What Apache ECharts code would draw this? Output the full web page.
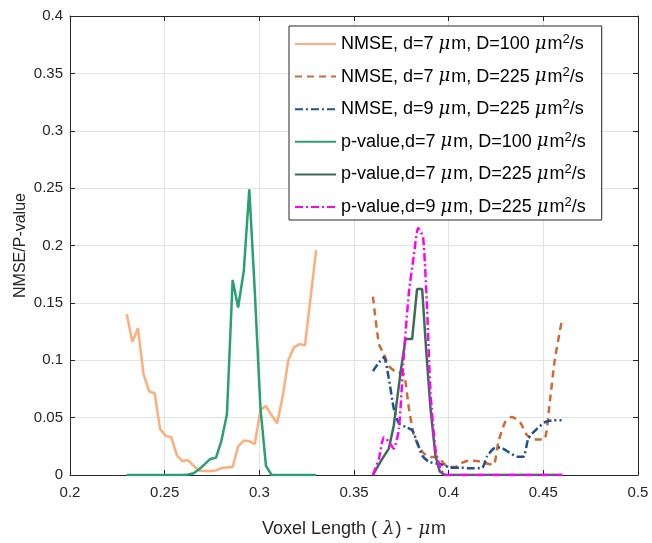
<!DOCTYPE html>
<html><head><meta charset="utf-8">
<script src="https://cdn.jsdelivr.net/npm/echarts@6/dist/echarts.min.js"></script>
<style>html,body{margin:0;padding:0;background:#fff}#c{width:652px;height:543px}</style>
</head><body><div id="c"></div><script>
// ---- data ----
const xTicks = [0.2, 0.25, 0.3, 0.35, 0.4, 0.45, 0.5];
const yTicks = [0, 0.05, 0.1, 0.15, 0.2, 0.25, 0.3, 0.35, 0.4];

const leftX = [0.2300,0.2329,0.2359,0.2388,0.2418,0.2447,0.2476,0.2506,0.2535,0.2565,0.2594,0.2624,0.2653,0.2682,0.2712,0.2741,0.2771,0.2800,0.2829,0.2859,0.2888,0.2918,0.2947,0.2976,0.3006,0.3035,0.3065,0.3094,0.3124,0.3153,0.3182,0.3212,0.3241,0.3271,0.3300];
const nmse7_100 = [0.140,0.116,0.128,0.088,0.073,0.071,0.040,0.034,0.033,0.017,0.012,0.013,0.008,0.004,0.0035,0.0035,0.004,0.006,0.0065,0.007,0.025,0.030,0.0295,0.027,0.057,0.060,0.052,0.045,0.069,0.100,0.111,0.114,0.113,0.155,0.196];
const pval7_100 = [0,0,0,0,0,0,0,0,0,0,0,0.0005,0.0015,0.005,0.0095,0.014,0.015,0.030,0.053,0.170,0.146,0.178,0.249,0.160,0.058,0.008,0,0,0,0,0,0,0,0,0];

const nmse7_225X = [0.360,0.3632,0.3658,0.3684,0.372,0.3763,0.379,0.3816,0.3842,0.3868,0.3895,0.3947,0.3974,0.400,0.4035,0.4061,0.4105,0.4158,0.4202,0.4237,0.4263,0.4298,0.4333,0.4377,0.4412,0.4447,0.4504,0.4535,0.4561,0.4596];
const nmse7_225 = [0.1555,0.114,0.1055,0.095,0.090,0.088,0.058,0.035,0.0245,0.019,0.016,0.015,0.010,0.007,0.007,0.010,0.0124,0.012,0.010,0.0087,0.029,0.046,0.0506,0.046,0.035,0.031,0.031,0.065,0.101,0.133];

const nmse9_225X = [0.360,0.3632,0.3658,0.3684,0.371,0.3737,0.3772,0.3807,0.3833,0.386,0.3895,0.3939,0.3974,0.4009,0.4061,0.4114,0.4175,0.4202,0.4237,0.4272,0.4316,0.436,0.4395,0.4421,0.4465,0.4509,0.4553,0.4596];
const nmse9_225 = [0.0905,0.098,0.1026,0.084,0.058,0.045,0.042,0.039,0.029,0.017,0.0116,0.010,0.0087,0.0064,0.0064,0.0058,0.0058,0.016,0.023,0.024,0.020,0.016,0.016,0.032,0.040,0.046,0.0477,0.0477];

const pval7_225X = [0.360,0.364,0.3684,0.371,0.3746,0.3772,0.3807,0.3833,0.386,0.3882,0.3904,0.393,0.3953,0.398,0.46];
const pval7_225 = [0,0.0116,0.023,0.043,0.0896,0.1185,0.1185,0.162,0.162,0.107,0.058,0.017,0.003,0,0];

const pval9_225X = [0.360,0.3632,0.3658,0.3684,0.371,0.3737,0.3763,0.379,0.3816,0.3839,0.3865,0.3886,0.3904,0.393,0.3956,0.398,0.46];
const pval9_225 = [0,0.0145,0.033,0.029,0.023,0.040,0.104,0.159,0.191,0.2153,0.207,0.1445,0.072,0.023,0.006,0,0];

const names = [
  'NMSE, d=7 μm, D=100 μm2/s',
  'NMSE, d=7 μm, D=225 μm2/s',
  'NMSE, d=9 μm, D=225 μm2/s',
  'p-value,d=7 μm, D=100 μm2/s',
  'p-value,d=7 μm, D=225 μm2/s',
  'p-value,d=9 μm, D=225 μm2/s'
];
// ---- build ----
const zip = (xs, ys) => xs.map((x, i) => [x, ys[i]]);
const FONT = '"Liberation Sans", Arial, Helvetica, sans-serif';
const AX = '#262626';

function mk(name, xs, ys, color, type, smooth) {
  return {
    name, type: 'line', data: zip(xs, ys), symbol: 'none', smooth: smooth || false,
    lineStyle: { color, width: 2.5, type }, itemStyle: { color }
  };
}
const series = [
  mk(names[0], leftX, nmse7_100, '#FDAE7A', 'solid'),
  mk(names[1], nmse7_225X, nmse7_225, '#D2692F', [7, 5], 0.2),
  mk(names[2], nmse9_225X, nmse9_225, '#1D4F9C', [8, 3, 2, 3], 0.2),
  mk(names[3], leftX, pval7_100, '#29A071', 'solid'),
  mk(names[4], pval7_225X, pval7_225, '#3B6E55', 'solid'),
  mk(names[5], pval9_225X, pval9_225, '#FF00FF', [8, 3, 2, 3], 0.2)
];

const chart = echarts.init(document.getElementById('c'), null, { renderer: 'canvas' });
const baseAxis = {
  type: 'value', axisLine: { show: true, onZero: false, lineStyle: { color: AX, width: 1 } },
  axisTick: { show: true, inside: true, length: 5, lineStyle: { color: AX } },
  splitLine: { show: false }
};
const itRich = (size, color) => ({ fontStyle: 'italic', fontSize: size, fontFamily: '"DejaVu Serif", serif', color, padding: [0, 1, 0, 0] });
chart.setOption({
  backgroundColor: '#fff',
  animation: false,
  textStyle: { fontFamily: FONT },
  grid: { left: 70, top: 16, right: 14, bottom: 65, containLabel: false },
  xAxis: [
    Object.assign({}, baseAxis, {
      position: 'bottom', min: xTicks[0], max: xTicks[xTicks.length - 1], interval: 0.05,
      axisLabel: { color: AX, fontSize: 15, fontFamily: FONT, margin: 10 },
      splitLine: { show: true, lineStyle: { color: '#e3e3e3', width: 1 } },
      name: 'Voxel Length ( {it|λ}) - {it|μ}m', nameLocation: 'middle', nameGap: 45, nameMoveOverlap: false,
      nameTextStyle: { color: AX, fontSize: 18, fontFamily: FONT, rich: { it: Object.assign(itRich(18, AX), { padding: [0, 1, 0, 1] }) } }
    }),
    Object.assign({}, baseAxis, {
      position: 'top', min: 0.2, max: 0.5, interval: 0.05, axisLabel: { show: false }
    })
  ],
  yAxis: [
    Object.assign({}, baseAxis, {
      position: 'left', min: yTicks[0], max: yTicks[yTicks.length - 1], interval: 0.05,
      axisLabel: { color: AX, fontSize: 15, fontFamily: FONT, margin: 7 },
      splitLine: { show: true, lineStyle: { color: '#e3e3e3', width: 1 } },
      name: 'NMSE/P-value', nameLocation: 'middle', nameGap: 41, nameRotate: 90, nameMoveOverlap: false,
      nameTextStyle: { color: AX, fontSize: 16, fontFamily: FONT }
    }),
    Object.assign({}, baseAxis, {
      position: 'right', min: 0, max: 0.4, interval: 0.05, axisLabel: { show: false }
    })
  ],
  legend: {
    orient: 'vertical', left: 289, top: 26,
    backgroundColor: '#fff', borderColor: AX, borderWidth: 1,
    padding: [7, 16, 2, 5], itemGap: 10.6, itemWidth: 41, itemHeight: 14,
    itemStyle: { opacity: 0 },
    data: names,
    formatter: n => n.replace(/μ/g, '{it|μ}').replace('m2/s', 'm{sup|2}/s'),
    textStyle: {
      color: '#000', fontSize: 18, fontFamily: FONT, lineHeight: 22,
      rich: {
        it: Object.assign(itRich(18, '#000'), { lineHeight: 22 }),
        sup: { fontSize: 13, color: '#000', verticalAlign: 'top', lineHeight: 12, padding: [0, 0, 8, 0] }
      }
    }
  },
  series
});
</script></body></html>
